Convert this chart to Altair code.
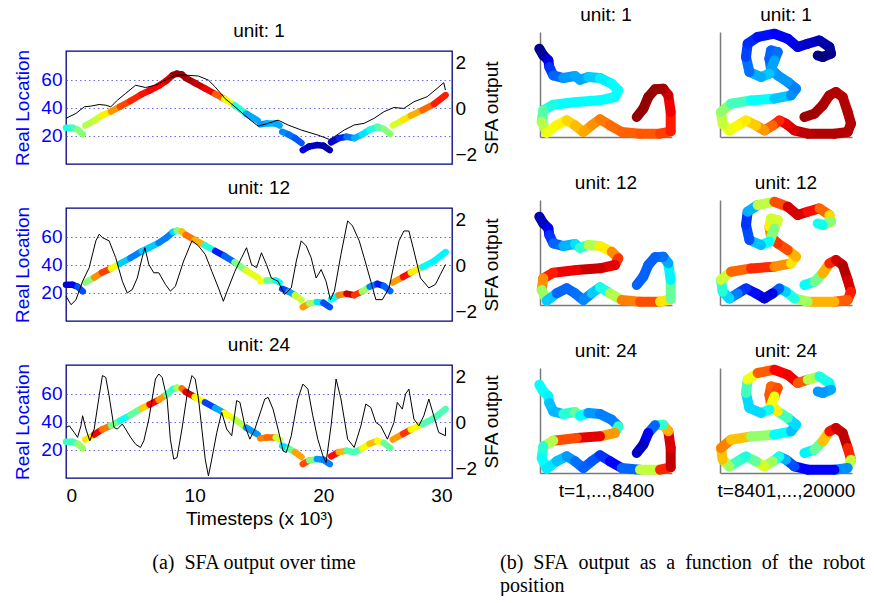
import altair as alt
import pandas as pd

# ---------------- text ----------------
UNIT_TITLES = ["unit: 1", "unit: 12", "unit: 24"]
X_TITLE_LEFT = "Timesteps (x 10\u00b3)"
Y_TITLE_LEFT = "Real Location"
Y_TITLE_RIGHT = "SFA output"
COL_TITLES = ["t=1,...,8400", "t=8401,...,20000"]
CAPTION_A = "(a)\u2002SFA output over time"
CAPTION_B = ["(b)\u2002SFA\u2002output\u2002as\u2002a\u2002function\u2002of\u2002the\u2002robot", "position"]

X_TICKS = [0, 10, 20, 30]
LOC_TICKS = [20, 40, 60]
SFA_TICKS = [-2, 0, 2]

# ---------------- robot location over time (shared by the three units) ----------------
LOC_T = [0, 0.5, 0.9, 1.3,
         1.5, 2.2, 2.8, 3.5, 4.2, 5.0, 5.9, 6.5, 7.2, 7.8, 8.3, 8.6, 9.0, 9.3, 10.0, 10.8, 11.6, 12.3, 13.1, 14.0, 14.9,
         15.1, 15.6, 16.3, 16.6,
         16.8, 17.3, 17.8, 18.3,
         18.4, 18.9, 19.5, 20.0, 20.5,
         20.6, 21.2, 21.8, 22.4, 23.0, 23.6, 24.2, 24.7, 25.2,
         25.4, 26.2, 26.8, 27.7, 28.6, 29.5]
LOC_V = [25.9, 25.9, 24.5, 21.2,
         27.5, 31, 34.6, 37.5, 41, 45, 49.9, 52.5, 55.8, 59.5, 63.5, 64.5, 64, 61.5, 58, 54, 50, 46.5, 42, 36, 31.1,
         28.3, 29, 29, 27.5,
         23, 21, 18.5, 15,
         9.9, 12.5, 13.5, 13, 9.9,
         15.5, 18.5, 19.5, 18.5, 21, 24.5, 26.5, 25, 21.4,
         27.5, 31.5, 34.5, 38.5, 42.8, 49.2]
LOC_SEG = [0] * 4 + [1] * 21 + [2] * 4 + [3] * 4 + [4] * 5 + [5] * 9 + [6] * 6

# colour (SFA value, 0..1 on the jet map) of the location trace, per unit
U1_LOC_C = [0.4, 0.4, 0.5, 0.52,
            0.55, 0.55, 0.6, 0.68, 0.78, 0.83, 0.85, 0.87, 0.88, 0.88, 0.95, 0.98, 0.98, 0.97, 0.95, 0.92, 0.85, 0.72, 0.5, 0.33, 0.25,
            0.25, 0.3, 0.3, 0.28,
            0.27, 0.25, 0.22, 0.2,
            0.1, 0.08, 0.05, 0.05, 0.02,
            0.05, 0.12, 0.2, 0.28, 0.32, 0.38, 0.42, 0.5, 0.52,
            0.55, 0.62, 0.68, 0.73, 0.82, 0.88]
U12_LOC_C = [0.08, 0.08, 0.15, 0.25,
             0.4, 0.62, 0.85, 0.78, 0.45, 0.2, 0.3, 0.35, 0.3, 0.2, 0.3, 0.38, 0.62, 0.75, 0.78, 0.62, 0.2, 0.1, 0.35, 0.65, 0.55,
             0.7, 0.55, 0.4, 0.35,
             0.2, 0.18, 0.4, 0.75,
             0.82, 0.62, 0.45, 0.25, 0.15,
             0.15, 0.6, 0.9, 0.95, 0.7, 0.35, 0.15, 0.15, 0.3,
             0.6, 0.85, 0.88, 0.4, 0.35, 0.38]
U24_LOC_C = [0.45, 0.42, 0.45, 0.6,
             0.45, 0.85, 0.92, 0.6, 0.38, 0.4, 0.55, 0.8, 0.95, 0.5, 0.4, 0.45, 0.65, 0.88, 0.95, 0.3, 0.08, 0.5, 0.75, 0.35, 0.2,
             0.7, 0.8, 0.75, 0.4,
             0.3, 0.4, 0.55, 0.88,
             0.95, 0.65, 0.35, 0.2, 0.3,
             0.88, 0.85, 0.55, 0.35, 0.55, 0.68, 0.7, 0.55, 0.4,
             0.65, 0.8, 0.85, 0.4, 0.5, 0.4]

# ---------------- SFA output over time (black lines) ----------------
U1_T = [0, 0.77, 1.42, 1.93, 2.57, 3.09, 3.48, 4.0, 4.63, 5.41, 6.18, 6.95, 7.72, 8.5, 9.27, 10.3, 11.07, 11.59,
        12.36, 13.13, 14.16, 14.93, 15.71, 16.48, 17.25, 18.28, 19.57, 20.47, 20.86, 21.63, 22.4, 23.17, 23.95,
        24.72, 25.49, 26.26, 27.04, 28.07, 28.84, 29.36, 29.49]
U1_S = [-0.43, -0.22, 0.07, 0.1, 0.17, 0.14, 0.07, 0.36, 0.65, 1.01, 0.91, 1.01, 1.23, 1.45, 1.45, 1.41, 1.23, 0.94,
        0.43, 0.07, -0.43, -0.77, -0.65, -0.51, -0.72, -0.94, -1.16, -1.35, -1.23, -0.94, -0.72, -0.65, -0.43,
        -0.14, 0.04, 0, 0.29, 0.51, 0.87, 1.12, 0.8]

U12_T = [0, 0.39, 0.77, 1.29, 1.8, 2.32, 2.58, 2.83, 3.35, 3.86, 4.38, 4.76, 5.15, 5.54, 5.92, 6.13, 6.44, 6.82, 7.21,
         7.73, 8.11, 8.5, 9.14, 9.79, 10.3, 10.82, 11.33, 11.85, 12.23, 12.62, 13.13, 13.65, 14.03, 14.42, 14.81,
         15.19, 15.58, 15.96, 16.48, 16.99, 17.51, 17.9, 18.28, 18.67, 19.05, 19.44, 19.83, 20.21, 20.55, 20.86,
         21.37, 21.89, 22.27, 22.79, 23.17, 23.69, 24.08, 24.59, 25.11, 25.49, 25.88, 26.26, 26.65, 27.04, 27.55,
         28.2, 28.71, 29.1, 29.49]
U12_S = [-1.34, -1.71, -1.5, -0.69, -0.1, 1.07, 1.36, 1.21, 1.07, 0.34, -0.69, -1.2, -1.05, -0.55, 0.34, 0.77, 0.04,
         -0.32, -0.32, -0.83, -1.12, -0.91, 0.19, 1.07, 0.85, 0.48, -0.25, -0.98, -1.56, -0.98, -0.25, 0.34, 0.77,
         0.04, -0.1, 0.55, 0.04, -0.55, -0.69, -1.27, -0.98, 0.19, 1.07, 0.85, 0.34, -0.55, -0.18, -0.69, -1.49,
         -1.12, 0.48, 1.94, 1.72, 1.07, 0.34, -0.69, -1.49, -1.49, -0.98, 0.04, 1.07, 1.5, 1.5, 0.63, -0.55,
         -0.98, -0.83, -0.39, 0.04]

U24_T = [0, 0.26, 0.64, 0.9, 1.16, 1.29, 1.55, 1.85, 2.19, 2.58, 2.83, 3.09, 3.35, 3.73, 3.99, 4.38, 4.63, 5.02,
         5.41, 5.79, 6.05, 6.44, 6.95, 7.21, 7.47, 7.86, 8.11, 8.37, 8.63, 9.01, 9.4, 9.79, 10.04, 10.3, 10.56,
         10.82, 11.07, 11.33, 11.72, 12.1, 12.49, 12.88, 13.26, 13.52, 13.9, 14.29, 14.68, 15.45, 15.71, 16.09,
         16.48, 16.87, 17.12, 17.51, 18.02, 18.41, 18.8, 19.18, 19.57, 19.96, 20.21, 20.6, 20.99, 21.37, 21.89,
         22.4, 22.92, 23.3, 23.69, 24.08, 24.46, 24.98, 25.49, 25.75, 26.14, 26.39, 26.65, 27.04, 27.42, 27.81,
         28.2, 28.58, 28.97, 29.49, 29.5]
U24_S = [-0.22, -0.15, -0.44, -0.65, -0.15, 0.29, -0.29, -0.8, -0.29, 1.16, 2.04, 1.96, 1.16, -0.22, -0.29, -0.07,
         -0.29, -0.65, -0.95, -1.09, -0.8, 0.15, 1.89, 2.11, 1.96, 1.02, -0.73, -1.6, -1.53, -0.29, 1.16, 2.04,
         1.89, 1.02, -0.29, -1.6, -2.33, -1.6, -0.44, 0.44, -0.29, -0.58, 0.95, 0.87, -0.15, -0.73, -0.29, 1.02,
         1.09, 0.58, -0.29, -1.24, -1.31, -0.58, 1.02, 1.67, 1.45, 0.29, -0.73, -1.45, -1.75, -0.15, 1.89, 1.02,
         -0.73, -1.09, -0.15, 0.8, 0.65, 0, -0.15, -0.73, 0, 0.87, 0.58, 1.24, 1.45, 0.15, -0.15, 0.29, 1.02,
         0.29, -0.44, -0.58, -0.22]

# ---------------- robot path in the plane ----------------
PATH1_X = [-0.7, 3.3, 8.3, 9.3, 13.3, 23.3, 35, 40, 48.3, 60, 71.7, 78.3, 75, 60, 36.7, 13.3, 3.3, 1.7, 6.7, 16.7,
           26.7, 35, 43.3, 51.7, 60, 70, 81.7, 100, 120, 130.7, 130.7, 128.3, 123.3, 115, 108.3, 103.3, 96.7]
PATH1_Y = [88.3, 81.7, 76.7, 70, 61.7, 59, 61, 57.3, 60, 59, 53.3, 46.7, 40, 36.7, 35, 32.3, 26.7, 15, 4.3, 11.7,
           16.7, 11.7, 5, 11.7, 17.7, 11.7, 5, 3.3, 3.3, 5.7, 25, 41.7, 48.3, 47.7, 40, 28.3, 20]
PATH2_X = [84.4, 94.4, 102.7, 109.4, 116, 122.7, 127.7, 131, 127.7, 114.4, 87.7, 74.4, 66, 59.4, 52.7, 44.4, 36,
           26, 17.7, 9.4, 2.7, 1, 11, 31, 54.4, 71, 76, 67.7, 57.7, 51, 49.4, 51, 57.7, 54.4, 49.4, 41, 29.4, 26,
           27.7, 37.7, 54.4, 67.7, 77.7, 87.7, 99.4, 109.4, 111, 102.7, 97.7]
PATH2_Y = [20, 23.3, 31.6, 41.6, 45, 40, 25, 13.3, 5, 3.3, 3.3, 6.6, 13.3, 16.6, 11.6, 6.6, 11.6, 16.6, 11.6, 6.6,
           13.3, 25, 33.3, 36.6, 38.3, 41.6, 48.3, 55, 61.6, 68.3, 78.3, 86.6, 85, 76.6, 63.3, 60, 65, 80, 93.3,
           100, 103.3, 98.3, 90, 93.3, 96.6, 90, 83.3, 80, 81.6]

P1_U1_C = [0.0, 0.02, 0.05, 0.15, 0.2, 0.25, 0.3, 0.28, 0.3, 0.35, 0.37, 0.38, 0.38, 0.38, 0.37, 0.38, 0.42, 0.5,
           0.6, 0.62, 0.65, 0.68, 0.7, 0.72, 0.75, 0.76, 0.78, 0.78, 0.8, 0.83, 0.87, 0.9, 0.95, 0.97, 0.98, 0.98, 0.98]
P1_U12_C = [0.05, 0.05, 0.08, 0.15, 0.2, 0.25, 0.35, 0.35, 0.5, 0.6, 0.68, 0.8, 0.85, 0.95, 0.9, 0.88, 0.82, 0.65,
            0.4, 0.25, 0.2, 0.25, 0.22, 0.3, 0.35, 0.45, 0.65, 0.85, 0.75, 0.55, 0.4, 0.33, 0.25, 0.22, 0.22, 0.22, 0.22]
P1_U24_C = [0.38, 0.38, 0.38, 0.35, 0.28, 0.33, 0.5, 0.45, 0.3, 0.25, 0.25, 0.25, 0.6, 0.85, 0.95, 0.65, 0.45, 0.38,
            0.38, 0.33, 0.3, 0.25, 0.22, 0.22, 0.2, 0.15, 0.1, 0.35, 0.78, 0.9, 0.97, 0.85, 0.55, 0.3, 0.15, 0.08, 0.05]
P2_U1_C = [0.97, 0.97, 0.96, 0.95, 0.95, 0.95, 0.95, 0.95, 0.95, 0.95, 0.95, 0.93, 0.9, 0.87, 0.8, 0.75, 0.7, 0.65,
           0.64, 0.62, 0.58, 0.55, 0.48, 0.4, 0.36, 0.28, 0.25, 0.25, 0.3, 0.25, 0.22, 0.22, 0.22, 0.25, 0.32, 0.32,
           0.27, 0.2, 0.18, 0.15, 0.13, 0.12, 0.1, 0.08, 0.06, 0.04, 0.02, 0.0, 0.0]
P2_U12_C = [0.38, 0.38, 0.6, 0.8, 0.88, 0.95, 0.95, 0.88, 0.82, 0.75, 0.65, 0.42, 0.38, 0.28, 0.15, 0.05, 0.12, 0.15,
            0.2, 0.3, 0.38, 0.45, 0.7, 0.85, 0.82, 0.65, 0.65, 0.75, 0.85, 0.8, 0.68, 0.6, 0.55, 0.62, 0.38, 0.38,
            0.25, 0.15, 0.2, 0.4, 0.72, 0.88, 0.95, 0.88, 0.85, 0.7, 0.62, 0.4, 0.38]
P2_U24_C = [0.33, 0.4, 0.55, 0.82, 0.9, 0.95, 0.93, 0.75, 0.38, 0.15, 0.1, 0.15, 0.25, 0.35, 0.45, 0.62, 0.55, 0.4,
            0.42, 0.45, 0.62, 0.75, 0.75, 0.62, 0.42, 0.33, 0.3, 0.38, 0.5, 0.78, 0.8, 0.78, 0.78, 0.82, 0.4, 0.38,
            0.3, 0.38, 0.5, 0.72, 0.85, 0.9, 0.88, 0.7, 0.4, 0.4, 0.38, 0.2, 0.35]

# ---------------- helpers ----------------
FONT = "Liberation Sans"
SERIF = "Liberation Serif"
FS = 19
JET = alt.Scale(domain=[0, 0.125, 0.375, 0.625, 0.875, 1.0],
                range=["#000080", "#0000FF", "#00FFFF", "#FFFF00", "#FF0000", "#800000"],
                interpolate="rgb", clamp=True)
BLANK = pd.DataFrame({"s": [""]})


def segments(xs, ys, cs, groups=None):
    rows = []
    for i in range(len(xs) - 1):
        if groups is not None and groups[i] != groups[i + 1]:
            continue
        rows.append({"x": xs[i], "y": ys[i], "x2": xs[i + 1], "y2": ys[i + 1],
                     "c": (cs[i] + cs[i + 1]) / 2})
    return pd.DataFrame(rows)


def time_panel(title, loc_c, sfa_t, sfa_s, show_x):
    seg = segments(LOC_T, LOC_V, loc_c, LOC_SEG)
    sfa = pd.DataFrame({"x": sfa_t, "s": sfa_s, "i": list(range(len(sfa_t)))})
    if show_x:
        xaxis = alt.Axis(values=X_TICKS, title=X_TITLE_LEFT, labelFontSize=FS, titleFontSize=FS,
                         titleFontWeight="normal", ticks=False, domain=False, grid=False,
                         labelPadding=8, titlePadding=4, labelColor="black", titleColor="black")
    else:
        xaxis = None
    xs = alt.Scale(domain=[0, 30], nice=False, zero=False)
    loc = alt.Chart(seg).mark_rule(strokeWidth=6.5, strokeCap="round").encode(
        x=alt.X("x:Q", scale=xs, axis=xaxis),
        x2="x2:Q",
        y=alt.Y("y:Q", scale=alt.Scale(domain=[0, 80.7], nice=False, zero=False),
                axis=alt.Axis(orient="left", values=LOC_TICKS, title=Y_TITLE_LEFT, labelColor="#0000FF",
                              titleColor="#0000FF", grid=True, gridDash=[1.5, 3], gridColor="#6a6ae0",
                              gridWidth=1, ticks=False, domain=False, labelFontSize=FS, titleFontSize=FS,
                              titleFontWeight="normal", labelPadding=4, titlePadding=8)),
        y2="y2:Q",
        color=alt.Color("c:Q", scale=JET, legend=None),
    )
    line = alt.Chart(sfa).mark_line(color="black", strokeWidth=1).encode(
        x=alt.X("x:Q", scale=xs, axis=xaxis),
        y=alt.Y("s:Q", scale=alt.Scale(domain=[-2.42, 2.5], nice=False, zero=False),
                axis=alt.Axis(orient="right", values=SFA_TICKS, title=Y_TITLE_RIGHT, titleAngle=270,
                              titleBaseline="top", labelColor="black", titleColor="black", grid=False,
                              ticks=False, domain=False, labelFontSize=FS, titleFontSize=FS,
                              titleFontWeight="normal", labelPadding=3, titlePadding=6)),
        order="i:Q",
    )
    return alt.layer(loc, line).resolve_scale(y="independent").properties(
        width=386, height=113,
        title=alt.TitleParams(title, font=FONT, fontSize=FS, fontWeight="normal", color="black", offset=8),
        view=alt.ViewBackground(stroke="#000080", strokeWidth=1.3))


def path_panel(title, px, py, cs, xtitle, title_offset):
    seg = segments(px, py, cs)
    xaxis = alt.Axis(domain=True, domainColor="#7a7a7a", domainWidth=1.5, labels=False, ticks=False, grid=False,
                     title=xtitle, titleFontSize=FS, titleFontWeight="normal", titleColor="black", titlePadding=8)
    yaxis = alt.Axis(domain=True, domainColor="#7a7a7a", domainWidth=1.5, labels=False, ticks=False, grid=False,
                     title=None)
    return alt.Chart(seg).mark_rule(strokeWidth=10, strokeCap="round").encode(
        x=alt.X("x:Q", scale=alt.Scale(domain=[0, 132], nice=False, zero=False), axis=xaxis),
        x2="x2:Q",
        y=alt.Y("y:Q", scale=alt.Scale(domain=[0, 105], nice=False, zero=False), axis=yaxis),
        y2="y2:Q",
        color=alt.Color("c:Q", scale=JET, legend=None),
    ).properties(
        width=132, height=105,
        title=alt.TitleParams(title, font=FONT, fontSize=FS, fontWeight="normal", color="black",
                              offset=title_offset, frame="group"))


def caption(text, width, anchor):
    return alt.Chart(BLANK).mark_text().encode(text="s:N").properties(
        width=width, height=1,
        title=alt.TitleParams(text, orient="bottom", anchor=anchor, font=SERIF, fontSize=20,
                              fontWeight="normal", color="black", offset=0, lineHeight=23))


# ---------------- assemble ----------------
p1 = time_panel(UNIT_TITLES[0], U1_LOC_C, U1_T, U1_S, False)
p2 = time_panel(UNIT_TITLES[1], U12_LOC_C, U12_T, U12_S, False)
p3 = time_panel(UNIT_TITLES[2], U24_LOC_C, U24_T, U24_S, True)

spacer = alt.Chart(BLANK).mark_text().encode(text="s:N").properties(width=386, height=1)

left_col = alt.vconcat(spacer, alt.vconcat(p1, p2, p3, spacing=11), spacing=-17)

col1 = alt.vconcat(
    path_panel(UNIT_TITLES[0], PATH1_X, PATH1_Y, P1_U1_C, None, 7),
    path_panel(UNIT_TITLES[1], PATH1_X, PATH1_Y, P1_U12_C, None, 7),
    path_panel(UNIT_TITLES[2], PATH1_X, PATH1_Y, P1_U24_C, COL_TITLES[0], 7),
    spacing=35)
col2 = alt.vconcat(
    path_panel(UNIT_TITLES[0], PATH2_X, PATH2_Y, P2_U1_C, None, 3.7),
    path_panel(UNIT_TITLES[1], PATH2_X, PATH2_Y, P2_U12_C, None, 3.7),
    path_panel(UNIT_TITLES[2], PATH2_X, PATH2_Y, P2_U24_C, COL_TITLES[1], 3.7),
    spacing=35)

right_block = alt.hconcat(col1, col2, spacing=40)
main = alt.hconcat(left_col, right_block, spacing=31)
captions = alt.hconcat(caption(CAPTION_A, 376, "middle"), caption(CAPTION_B, 355, "start"), spacing=58)

chart = alt.vconcat(
    main, captions, spacing=12,
    padding={"left": 5, "top": -2, "right": 0, "bottom": 0},
).configure_view(stroke=None).configure_axis(labelFont=FONT, titleFont=FONT)

chart.save("out.html", embed_options={"renderer": "svg", "actions": False})
